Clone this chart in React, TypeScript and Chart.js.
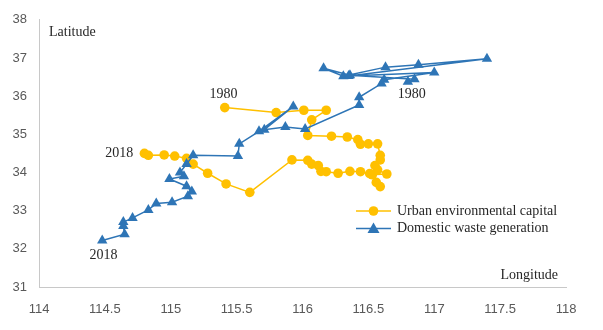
import React, { useEffect, useRef } from "react";
import { Chart, registerables } from "chart.js";

Chart.register(...registerables);

// Urban environmental capital: centre of gravity path, 1980 -> 2018
const urbanLon = [
  115.41, 115.80, 116.01, 116.18, 116.07, 116.04, 116.22, 116.34, 116.42, 116.44,
  116.50, 116.57, 116.59, 116.59, 116.55, 116.57, 116.64, 116.53, 116.56, 116.59,
  116.51, 116.44, 116.36, 116.27, 116.18, 116.14, 116.12, 116.07, 116.04, 115.92,
  115.60, 115.42, 115.28, 115.17, 115.12, 115.03, 114.95, 114.83, 114.80,
];
const urbanLat = [
  35.70, 35.57, 35.63, 35.63, 35.38, 34.97, 34.95, 34.93, 34.86, 34.74,
  34.75, 34.75, 34.45, 34.33, 34.18, 34.07, 33.96, 33.94, 33.74, 33.63,
  33.97, 34.02, 34.03, 33.98, 34.02, 34.03, 34.18, 34.22, 34.32, 34.33,
  33.48, 33.70, 33.98, 34.22, 34.37, 34.43, 34.46, 34.45, 34.50,
];

// Domestic waste generation: centre of gravity path, 1980 -> 2018
const wasteLon = [
  116.80, 116.85, 116.36, 116.16, 116.31, 116.63, 116.88, 117.40, 116.35, 117.00,
  116.62, 116.60, 116.43, 116.43, 116.02, 115.87, 115.71, 115.93, 115.67, 115.52,
  115.51, 115.17, 115.12, 115.07, 115.10, 114.99, 115.12, 115.16, 115.13, 115.01,
  114.89, 114.83, 114.71, 114.64, 114.64, 114.65, 114.48,
];
const wasteLat = [
  36.38, 36.44, 36.55, 36.73, 36.52, 36.76, 36.82, 36.98, 36.53, 36.62,
  36.43, 36.33, 35.97, 35.77, 35.14, 35.19, 35.12, 35.73, 35.08, 34.75,
  34.43, 34.45, 34.22, 34.00, 33.90, 33.83, 33.64, 33.50, 33.38, 33.22,
  33.19, 33.02, 32.81, 32.70, 32.60, 32.38, 32.22,
];

const seriesNames = ["Urban environmental capital", "Domestic waste generation"];
const xTickValues = [114, 114.5, 115, 115.5, 116, 116.5, 117, 117.5, 118];
const xTickLabels = ["114", "114.5", "115", "115.5", "116", "116.5", "117", "117.5", "118"];
const yTickLabels = ["31", "32", "33", "34", "35", "36", "37", "38"];

// Year annotations (text, lon, lat)
const yearLabels: [string, number, number][] = [
  ["1980", 115.40, 36.05],
  ["2018", 114.61, 34.50],
  ["1980", 116.83, 36.05],
  ["2018", 114.49, 31.82],
];

const URBAN = "#ffc000";
const WASTE = "#2e75b6";
const SERIF = "'Liberation Serif', 'Times New Roman', serif";

const overlayPlugin = {
  id: "overlay",
  afterDatasetsDraw(chart: any) {
    const { ctx, scales, chartArea } = chart;
    const xs = scales.x;
    const ys = scales.y;
    ctx.save();
    ctx.fillStyle = "#262626";
    ctx.font = `14px ${SERIF}`;
    ctx.textAlign = "center";
    ctx.textBaseline = "middle";
    for (const [t, lon, lat] of yearLabels) {
      ctx.fillText(t, xs.getPixelForValue(lon), ys.getPixelForValue(lat));
    }
    // axis titles inside plot
    ctx.textAlign = "left";
    ctx.fillText("Latitude", chartArea.left + 10, 32);
    ctx.textAlign = "right";
    ctx.fillText("Longitude", chartArea.right - 8, 275);

    // legend
    const items = [
      { name: seriesNames[0], color: URBAN, style: "circle" },
      { name: seriesNames[1], color: WASTE, style: "triangle" },
    ];
    const lx0 = 356;
    const lx1 = 391;
    items.forEach((it, i) => {
      const y = 211 + i * 17.5;
      ctx.strokeStyle = it.color;
      ctx.lineWidth = 1.5;
      ctx.beginPath();
      ctx.moveTo(lx0, y);
      ctx.lineTo(lx1, y);
      ctx.stroke();
      ctx.fillStyle = it.color;
      const cx = (lx0 + lx1) / 2;
      ctx.beginPath();
      if (it.style === "circle") {
        ctx.arc(cx, y, 4.8, 0, Math.PI * 2);
      } else {
        ctx.moveTo(cx, y - 6);
        ctx.lineTo(cx + 6, y + 4.5);
        ctx.lineTo(cx - 6, y + 4.5);
        ctx.closePath();
      }
      ctx.fill();
      ctx.fillStyle = "#262626";
      ctx.textAlign = "left";
      ctx.font = `14px ${SERIF}`;
      ctx.fillText(it.name, 397, y);
    });
    ctx.restore();
  },
};

const bgPlugin = {
  id: "bg",
  beforeDraw(chart: any) {
    const { ctx, width, height } = chart;
    ctx.save();
    ctx.fillStyle = "#ffffff";
    ctx.fillRect(0, 0, width, height);
    ctx.restore();
  },
};

export default function App() {
  const ref = useRef<HTMLCanvasElement | null>(null);

  useEffect(() => {
    if (!ref.current) return;
    const urbanData = urbanLon.map((x, i) => ({ x, y: urbanLat[i] }));
    const wasteData = wasteLon.map((x, i) => ({ x, y: wasteLat[i] }));
    const chart = new Chart(ref.current, {
      type: "scatter",
      data: {
        datasets: [
          {
            label: seriesNames[0],
            data: urbanData,
            showLine: true,
            borderColor: URBAN,
            backgroundColor: URBAN,
            borderWidth: 1.5,
            pointStyle: "circle",
            pointRadius: 4.8,
            pointBorderWidth: 0,
            order: 1,
          },
          {
            label: seriesNames[1],
            data: wasteData,
            showLine: true,
            borderColor: WASTE,
            backgroundColor: WASTE,
            borderWidth: 1.5,
            pointStyle: "triangle",
            pointRadius: 6,
            pointBorderWidth: 0,
            order: 0,
          },
        ],
      },
      options: {
        responsive: false,
        animation: false,
        events: [],
        layout: { padding: { left: 0, right: 37, top: 17, bottom: 0 } },
        plugins: {
          legend: { display: false },
          tooltip: { enabled: false },
        },
        scales: {
          x: {
            type: "linear",
            min: 114,
            max: 118,
            afterFit: (s: any) => {
              s.height = 43;
            },
            afterBuildTicks: (s: any) => {
              s.ticks = xTickValues.map((v) => ({ value: v }));
            },
            ticks: {
              padding: 15,
              color: "#595959",
              font: { family: "'Liberation Sans', Arial, sans-serif", size: 13 },
              callback: (v: any) => {
                const i = xTickValues.indexOf(Number(v));
                return i >= 0 ? xTickLabels[i] : "";
              },
              maxRotation: 0,
            },
            grid: { display: false, drawTicks: false },
            border: { display: true, color: "#c8c8c8", width: 1 },
          },
          y: {
            type: "linear",
            min: 31,
            max: 38,
            afterFit: (s: any) => {
              s.width = 39;
            },
            ticks: {
              stepSize: 1,
              padding: 12,
              color: "#595959",
              font: { family: "'Liberation Sans', Arial, sans-serif", size: 13 },
              callback: (v: any) => {
                const i = Math.round(Number(v)) - 31;
                return yTickLabels[i] ?? "";
              },
            },
            grid: { display: false, drawTicks: false },
            border: { display: true, color: "#c8c8c8", width: 1 },
          },
        },
      },
      plugins: [bgPlugin, overlayPlugin],
    });
    return () => chart.destroy();
  }, []);

  return (
    <div style={{ position: "absolute", left: 0, top: 0, width: 603, height: 330, background: "#fff" }}>
      <canvas ref={ref} width={603} height={330} style={{ display: "block", width: 603, height: 330 }} />
    </div>
  );
}
